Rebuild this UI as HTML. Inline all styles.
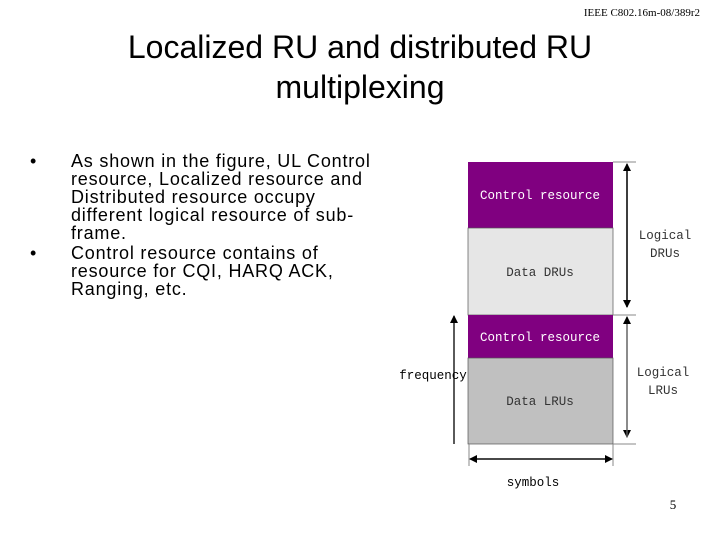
<!DOCTYPE html>
<html><head><style>
body{margin:0;width:720px;height:540px;background:#fff;position:relative;overflow:hidden;font-family:"Liberation Sans",sans-serif}
.a{position:absolute;white-space:nowrap}
.t{left:0;width:720px;text-align:center;font-size:32px;line-height:40px;color:#000}
.b{font-size:18px;line-height:18px;letter-spacing:0.8px;color:#000}
</style></head><body>
<div class="a" style="right:20px;top:7px;font-family:'Liberation Serif',serif;font-size:11px">IEEE C802.16m-08/389r2</div>
<div class="a t" style="top:27px">Localized RU and distributed RU</div>
<div class="a t" style="top:67px">multiplexing</div>
<div class="a b" style="left:30px;top:152px">•</div>
<div class="a b" style="left:71px;top:152px">As shown in the figure, UL Control<br>resource, Localized resource and<br>Distributed resource occupy<br>different logical resource of sub-<br>frame.</div>
<div class="a b" style="left:30px;top:244px">•</div>
<div class="a b" style="left:71px;top:244px">Control resource contains of<br>resource for CQI, HARQ ACK,<br>Ranging, etc.</div>
<svg class="a" style="left:0;top:0" width="720" height="540">
<defs><marker id="ar" markerWidth="8" markerHeight="8" refX="7" refY="4" orient="auto" markerUnits="userSpaceOnUse"><path d="M0,0 L8,4 L0,8z" fill="#000"/></marker></defs>
<rect x="468" y="162" width="145" height="66" fill="#800080"/>
<rect x="468" y="228" width="145" height="87" fill="#e6e6e6" stroke="#555" stroke-width="0.7"/>
<rect x="468" y="315" width="145" height="43" fill="#800080"/>
<rect x="468" y="358" width="145" height="86" fill="#c0c0c0" stroke="#555" stroke-width="0.7"/>
<g stroke="#888" stroke-width="1"><line x1="613" y1="162" x2="636" y2="162"/><line x1="613" y1="315" x2="636" y2="315"/><line x1="613" y1="444" x2="636" y2="444"/>
<line x1="469" y1="444" x2="469" y2="466"/><line x1="613" y1="444" x2="613" y2="466"/></g>
<g stroke="#000" stroke-width="1.3" fill="none">
<line x1="627" y1="170" x2="627" y2="307" marker-end="url(#ar)"/><line x1="627" y1="307" x2="627" y2="164" marker-end="url(#ar)"/>
<line x1="627" y1="322" x2="627" y2="437" marker-end="url(#ar)" stroke="#666"/><line x1="627" y1="437" x2="627" y2="317" marker-end="url(#ar)" stroke="#666"/>
<line x1="454" y1="444" x2="454" y2="316" marker-end="url(#ar)"/>
<line x1="477" y1="459" x2="612" y2="459" marker-end="url(#ar)"/><line x1="605" y1="459" x2="470" y2="459" marker-end="url(#ar)"/>
</g>
<g font-family="Liberation Mono, monospace" font-size="12.5">
<text x="540" y="199" fill="#fff" text-anchor="middle">Control resource</text>
<text x="540" y="276" fill="#333" text-anchor="middle">Data DRUs</text>
<text x="540" y="341" fill="#fff" text-anchor="middle">Control resource</text>
<text x="540" y="405" fill="#333" text-anchor="middle">Data LRUs</text>
<text x="665" y="239" fill="#333" text-anchor="middle">Logical</text>
<text x="665" y="257" fill="#333" text-anchor="middle">DRUs</text>
<text x="663" y="376" fill="#333" text-anchor="middle">Logical</text>
<text x="663" y="394" fill="#333" text-anchor="middle">LRUs</text>
<text x="433" y="379" fill="#000" text-anchor="middle">frequency</text>
<text x="533" y="486" fill="#000" text-anchor="middle">symbols</text>
</g>
<text x="673" y="509" font-family="Liberation Serif, serif" font-size="13" text-anchor="middle">5</text>
</svg>
</body></html>
